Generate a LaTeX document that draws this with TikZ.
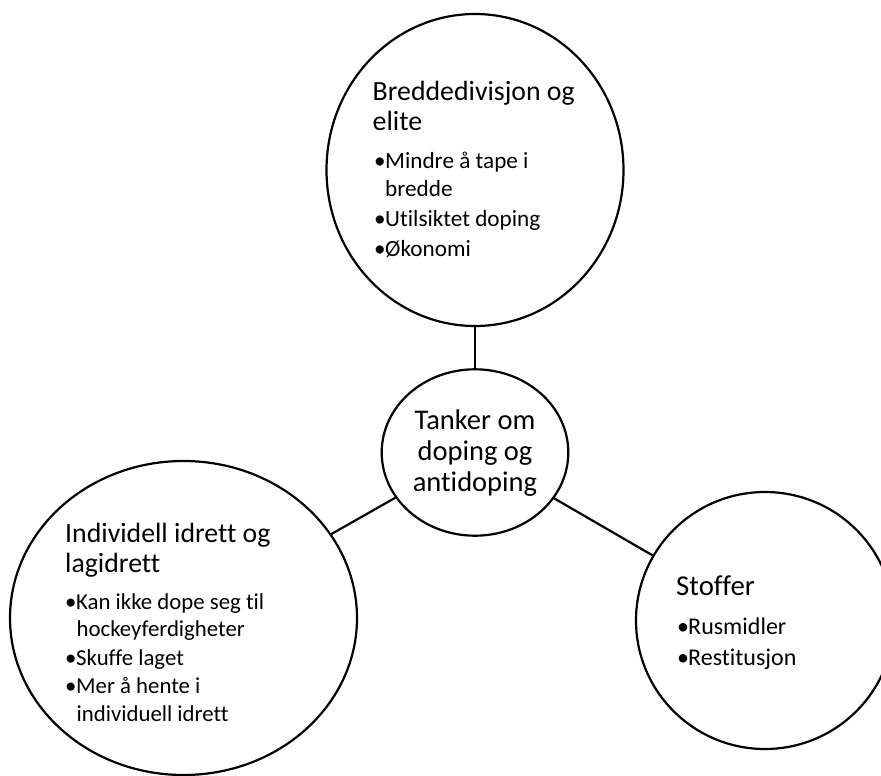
\documentclass[tikz,border=0pt]{standalone}
\usepackage{fontspec}
\setmainfont[Ligatures=CommonOff]{Carlito}
\usetikzlibrary{shapes.geometric}
\newcommand{\bul}{\makebox[11pt][l]{\textbullet}}

\begin{document}
\begin{tikzpicture}[x=1pt,y=-1pt,
bubble/.style={draw,ellipse,line width=2.2pt,inner sep=0pt},
head/.style={anchor=base west,inner sep=0pt,font=\fontsize{27.8}{30}\selectfont},
item/.style={anchor=base west,inner sep=0pt,font=\fontsize{23.2}{26}\selectfont},
hubtext/.style={anchor=base,inner sep=0pt,font=\fontsize{28.5}{31}\selectfont}]
\useasboundingbox (0,0) rectangle (881,776);
\clip (0,0) rectangle (881,776);
\node[bubble,minimum width=297pt,minimum height=312pt] (bredde) at (475,170) {};
\node[bubble,minimum width=186.6pt,minimum height=166.4pt] (tanker) at (475,452.5) {};
\node[bubble,minimum width=347pt,minimum height=314pt] (idrett) at (183.5,618) {};
\node[bubble,minimum width=258pt,minimum height=257pt] (stoffer) at (765,620.5) {};
\draw[line width=2.2pt] (tanker) -- (bredde);
\draw[line width=2.2pt] (tanker) -- (idrett);
\draw[line width=2.2pt] (tanker) -- (stoffer);

\node[hubtext] (t1) at (475,429) {Tanker om};
\node[hubtext] (t2) at (475,460.5) {doping og};
\node[hubtext] (t3) at (475,491.5) {antidoping};

\node[head] (b1) at (372.5,100.5) {Breddedivisjon og};
\node[head] (b2) at (372.5,130) {elite};
\node[item] (b3) at (374,168.5) {\bul Mindre å tape i};
\node[item] (b4) at (385,196) {bredde};
\node[item] (b5) at (374,226.5) {\bul Utilsiktet doping};
\node[item] (b6) at (374,256.5) {\bul Økonomi};

\node[head] (i1) at (65,542) {Individell idrett og};
\node[head] (i2) at (65,572) {lagidrett};
\node[item,font=\fontsize{22.8}{26}\selectfont] (i3) at (65,609) {\bul Kan ikke dope seg til};
\node[item,font=\fontsize{22.8}{26}\selectfont] (i4) at (76.5,636) {hockeyferdigheter};
\node[item,font=\fontsize{22.8}{26}\selectfont] (i5) at (65,665) {\bul Skuffe laget};
\node[item,font=\fontsize{22.8}{26}\selectfont] (i6) at (65,693.5) {\bul Mer å hente i};
\node[item,font=\fontsize{22.8}{26}\selectfont] (i7) at (76.5,721) {individuell idrett};

\node[head,font=\fontsize{28.8}{30}\selectfont] (s1) at (676,595) {Stoffer};
\node[item,font=\fontsize{24}{26}\selectfont] (s2) at (677,634) {\bul Rusmidler};
\node[item,font=\fontsize{24}{26}\selectfont] (s3) at (677,665.5) {\bul Restitusjon};
\end{tikzpicture}
\end{document}
